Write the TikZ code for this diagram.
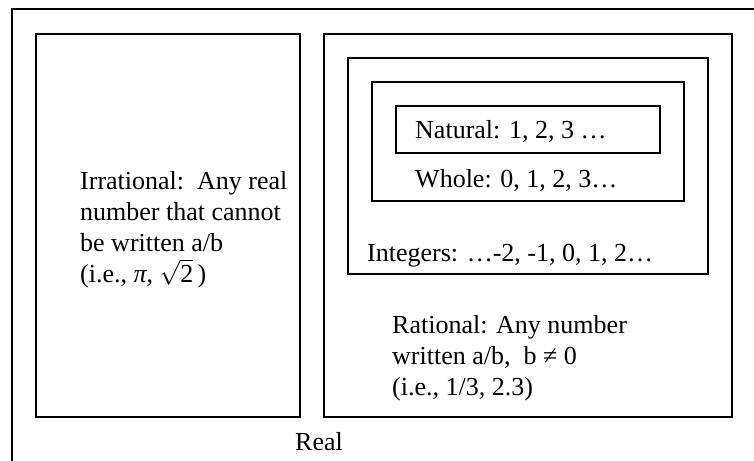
\documentclass[tikz,border=0pt]{standalone}
\usepackage{fontspec}
\setmainfont{Liberation Serif}
\begin{document}
\begin{tikzpicture}[x=1pt,y=-1pt,
  box/.style={draw=black,line width=1.8pt,inner sep=0pt,anchor=north west},
  lbl/.style={anchor=base west,inner sep=0pt,font=\fontsize{26}{30}\selectfont}]
\useasboundingbox (0,0) rectangle (754,460);
\clip (0,0) rectangle (754,460);
\fill[white] (0,0) rectangle (754,460);
% outer (Real) box, extends past the right and bottom edges
\node[box,minimum width=760pt,minimum height=470pt] (real) at (11,8.5) {};
\node[box,minimum width=264pt,minimum height=383pt] (irr) at (35,33) {};
\node[box,minimum width=408pt,minimum height=383pt] (rat) at (323,33) {};
\node[box,minimum width=360pt,minimum height=216pt] (int) at (347,57) {};
\node[box,minimum width=312pt,minimum height=119pt] (whole) at (371,81) {};
\node[box,minimum width=264pt,minimum height=47pt] (nat) at (395,105) {};
% texts
\node[lbl] (t1) at (80,189) {Irrational:\ \ Any real};
\node[lbl] (t2) at (80,220) {number that cannot};
\node[lbl] (t3) at (80,251) {be written a/b};
\node[lbl] (t4) at (80,282) {(i.e., {\itshape π}, \smash{$\sqrt{\mbox{2}}$}\,)};
\node[lbl] (tn) at (415,138) {Natural: 1, 2, 3 …};
\node[lbl] (tw) at (415,187) {Whole: 0, 1, 2, 3…};
\node[lbl] (ti) at (367,261) {Integers: …-2, -1, 0, 1, 2…};
\node[lbl] (r1) at (392,333) {Rational: Any number};
\node[lbl] (r2) at (392,364) {written a/b,\ \ b ≠ 0};
\node[lbl] (r3) at (392,395) {(i.e., 1/3, 2.3)};
\node[lbl] (tr) at (295,450) {Real};
\end{tikzpicture}
\end{document}
